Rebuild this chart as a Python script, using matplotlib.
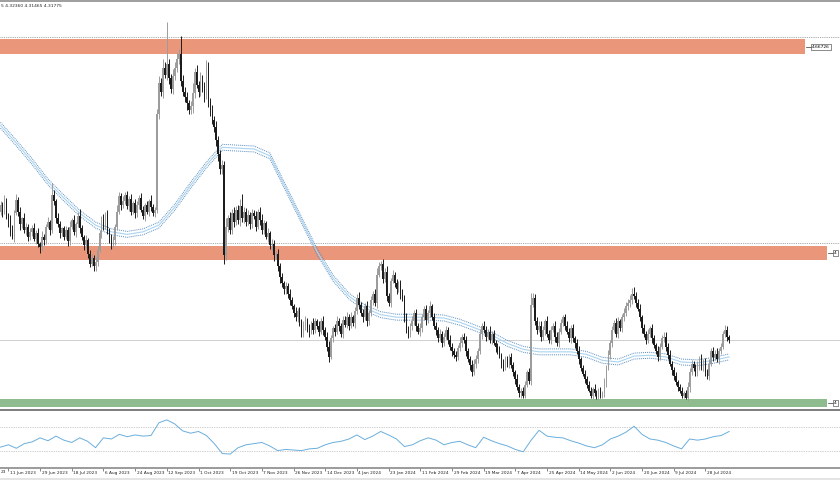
import numpy as np
import matplotlib
matplotlib.use("Agg")
import matplotlib.pyplot as plt
import matplotlib.transforms as mtransforms
from matplotlib.patches import Rectangle

# daily closes, one row per date-label interval (16 bars)
closes = [
    4.478, 4.470, 4.482, 4.466, 4.460, 4.445, 4.440, 4.468, 4.484, 4.470, 4.455, 4.462, 4.448, 4.452, 4.440, 4.446,  # 11 Jun
    4.450, 4.438, 4.445, 4.432, 4.428, 4.440, 4.436, 4.452, 4.458, 4.448, 4.490, 4.482, 4.462, 4.455, 4.445, 4.450,  # 29 Jun
    4.440, 4.448, 4.435, 4.452, 4.460, 4.446, 4.455, 4.465, 4.450, 4.440, 4.430, 4.436, 4.420, 4.408, 4.415, 4.405,  # 18 Jul
    4.410, 4.425, 4.445, 4.460, 4.452, 4.466, 4.448, 4.440, 4.430, 4.436, 4.452, 4.470, 4.488, 4.478, 4.482, 4.490,  # 6 Aug
    4.476, 4.485, 4.470, 4.480, 4.468, 4.478, 4.486, 4.472, 4.465, 4.478, 4.470, 4.482, 4.475, 4.468, 4.472, 4.585,  # 24 Aug
    4.622, 4.612, 4.640, 4.632, 4.645, 4.628, 4.615, 4.630, 4.640, 4.650, 4.656, 4.625, 4.612, 4.605, 4.598, 4.590,  # 12 Sep
    4.595, 4.610, 4.635, 4.620, 4.612, 4.625, 4.618, 4.608, 4.640, 4.600, 4.590, 4.578, 4.570, 4.555, 4.538, 4.520,  # 1 Oct
    4.525, 4.418, 4.452, 4.462, 4.448, 4.468, 4.458, 4.472, 4.460, 4.476, 4.462, 4.470, 4.458, 4.466, 4.455, 4.468,  # 19 Oct
    4.465, 4.452, 4.470, 4.460, 4.448, 4.456, 4.440, 4.445, 4.430, 4.432, 4.418, 4.420, 4.405, 4.392, 4.385, 4.378,  # 7 Nov
    4.382, 4.372, 4.365, 4.358, 4.350, 4.345, 4.352, 4.340, 4.325, 4.335, 4.342, 4.332, 4.328, 4.338, 4.330, 4.340,  # 26 Nov
    4.335, 4.328, 4.340, 4.330, 4.322, 4.310, 4.298, 4.320, 4.332, 4.328, 4.340, 4.335, 4.325, 4.342, 4.336, 4.345,  # 14 Dec
    4.335, 4.345, 4.338, 4.352, 4.368, 4.360, 4.350, 4.345, 4.358, 4.340, 4.350, 4.365, 4.372, 4.362, 4.395, 4.405,  # 4 Jan
    4.408, 4.390, 4.398, 4.370, 4.362, 4.388, 4.395, 4.385, 4.378, 4.385, 4.372, 4.368, 4.345, 4.330, 4.325, 4.335,  # 23 Jan
    4.340, 4.350, 4.335, 4.328, 4.332, 4.345, 4.355, 4.342, 4.350, 4.358, 4.345, 4.335, 4.330, 4.320, 4.325, 4.315,  # 11 Feb
    4.322, 4.330, 4.318, 4.310, 4.305, 4.300, 4.298, 4.308, 4.315, 4.322, 4.318, 4.305, 4.295, 4.288, 4.280, 4.290,  # 29 Feb
    4.295, 4.305, 4.325, 4.335, 4.330, 4.322, 4.328, 4.318, 4.325, 4.315, 4.310, 4.305, 4.300, 4.290, 4.285, 4.295,  # 19 Mar
    4.290, 4.298, 4.288, 4.280, 4.272, 4.262, 4.255, 4.258, 4.252, 4.265, 4.280, 4.270, 4.360, 4.368, 4.340, 4.330,  # 7 Apr
    4.335, 4.322, 4.330, 4.340, 4.325, 4.318, 4.330, 4.335, 4.322, 4.315, 4.328, 4.338, 4.345, 4.335, 4.328, 4.320,  # 25 Apr
    4.332, 4.320, 4.315, 4.305, 4.295, 4.285, 4.278, 4.272, 4.265, 4.258, 4.252, 4.260, 4.255, 4.250, 4.258, 4.252,  # 14 May
    4.255, 4.268, 4.285, 4.300, 4.315, 4.330, 4.338, 4.325, 4.340, 4.332, 4.345, 4.350, 4.358, 4.362, 4.365, 4.372,  # 2 Jun
    4.370, 4.362, 4.355, 4.345, 4.332, 4.325, 4.318, 4.325, 4.332, 4.320, 4.312, 4.305, 4.298, 4.310, 4.320, 4.322,  # 20 Jun
    4.310, 4.300, 4.290, 4.282, 4.275, 4.268, 4.262, 4.258, 4.252, 4.255, 4.250, 4.262, 4.280, 4.290, 4.285, 4.280,  # 9 Jul
    4.288, 4.295, 4.285, 4.292, 4.280, 4.275, 4.290, 4.305, 4.298, 4.302, 4.295, 4.305, 4.310, 4.325, 4.330, 4.322,  # 28 Jul
    4.3178,
]
first_open = 4.470

# wick lengths above / below the body, in thousandths
up_wick = [
    5, 3, 8, 4, 2, 6, 9, 4, 7, 3, 5, 2, 6, 4, 3, 5,
    4, 6, 3, 5, 2, 7, 4, 3, 6, 2, 14, 5, 3, 6, 4, 2,
    3, 5, 4, 7, 2, 6, 3, 5, 8, 4, 2, 6, 3, 4, 5, 3,
    6, 4, 3, 5, 7, 3, 6, 2, 4, 5, 3, 8, 5, 4, 6, 3,
    4, 3, 6, 2, 5, 4, 3, 6, 4, 2, 5, 3, 7, 4, 3, 6,
    8, 6, 10, 7, 49, 6, 5, 9, 7, 8, 6, 22, 7, 5, 6, 4,
    6, 12, 5, 8, 4, 10, 6, 5, 9, 7, 4, 6, 5, 7, 4, 5,
    6, 5, 10, 4, 8, 5, 7, 4, 6, 9, 15, 5, 4, 6, 3, 5,
    4, 6, 3, 5, 7, 4, 3, 6, 2, 5, 4, 3, 6, 4, 5, 3,
    5, 3, 6, 4, 3, 7, 4, 5, 3, 6, 4, 2, 5, 3, 6, 4,
    3, 5, 4, 6, 3, 5, 7, 4, 3, 5, 6, 4, 3, 5, 4, 6,
    4, 6, 3, 5, 4, 7, 3, 5, 4, 6, 3, 5, 4, 6, 8, 5,
    4, 6, 5, 8, 4, 3, 6, 4, 5, 3, 4, 6, 3, 5, 4, 3,
    6, 4, 5, 3, 6, 4, 3, 5, 4, 6, 3, 5, 4, 3, 6, 4,
    4, 5, 3, 6, 4, 3, 5, 4, 6, 3, 4, 5, 3, 4, 6, 5,
    5, 4, 6, 3, 5, 4, 3, 6, 4, 5, 3, 4, 6, 3, 5, 4,
    4, 3, 5, 4, 3, 6, 4, 3, 5, 4, 3, 5, 14, 6, 4, 5,
    5, 6, 4, 3, 6, 5, 4, 3, 5, 6, 4, 5, 3, 4, 5, 4,
    4, 5, 3, 4, 6, 3, 4, 5, 3, 4, 5, 3, 6, 4, 3, 5,
    3, 5, 4, 6, 3, 5, 4, 6, 5, 3, 4, 6, 5, 4, 6, 8,
    9, 5, 4, 6, 3, 5, 4, 6, 3, 5, 4, 3, 6, 5, 4, 5,
    5, 4, 6, 3, 4, 5, 3, 4, 5, 3, 4, 6, 5, 4, 3, 5,
    5, 4, 6, 3, 5, 4, 6, 3, 5, 4, 6, 3, 5, 4, 6, 5,
    2,
]
dn_wick = [
    4, 6, 3, 5, 8, 4, 3, 6, 2, 5, 7, 4, 3, 6, 5, 4,
    5, 3, 6, 4, 7, 3, 5, 4, 2, 6, 3, 4, 5, 3, 6, 4,
    4, 3, 6, 5, 3, 4, 6, 3, 5, 4, 6, 3, 5, 4, 3, 5,
    5, 4, 3, 6, 4, 3, 5, 7, 4, 3, 5, 4, 3, 6, 4, 3,
    3, 5, 4, 3, 6, 4, 5, 3, 4, 6, 3, 5, 4, 3, 5, 4,
    6, 5, 8, 4, 6, 7, 5, 6, 4, 5, 6, 7, 5, 6, 8, 5,
    5, 8, 6, 4, 7, 5, 6, 8, 5, 6, 7, 5, 6, 7, 8, 6,
    6, 10, 5, 6, 4, 5, 6, 4, 5, 7, 4, 6, 5, 4, 6, 5,
    4, 5, 3, 6, 4, 5, 3, 6, 4, 5, 6, 4, 5, 6, 4, 5,
    5, 4, 6, 3, 5, 4, 6, 5, 4, 3, 5, 4, 6, 3, 5, 4,
    4, 5, 3, 6, 4, 5, 6, 3, 4, 5, 3, 6, 4, 5, 3, 4,
    5, 3, 4, 6, 3, 5, 4, 6, 3, 5, 4, 3, 5, 4, 6, 3,
    4, 5, 3, 6, 4, 5, 3, 4, 6, 3, 5, 4, 6, 4, 5, 3,
    5, 4, 6, 3, 5, 4, 3, 6, 4, 5, 3, 4, 6, 4, 3, 5,
    4, 3, 5, 4, 6, 3, 5, 4, 3, 5, 4, 6, 3, 5, 4, 3,
    5, 4, 3, 6, 4, 5, 3, 4, 5, 3, 6, 4, 3, 5, 4, 3,
    4, 5, 3, 4, 6, 3, 4, 5, 3, 2, 3, 4, 5, 3, 4, 5,
    3, 5, 4, 6, 3, 4, 5, 3, 6, 4, 5, 3, 4, 5, 3, 4,
    5, 4, 6, 3, 5, 4, 3, 5, 4, 2, 3, 4, 3, 2, 3, 2,
    2, 4, 5, 3, 4, 5, 3, 4, 5, 3, 4, 5, 3, 4, 5, 4,
    4, 5, 3, 4, 6, 3, 5, 4, 3, 5, 4, 3, 5, 4, 3, 4,
    5, 4, 3, 5, 4, 3, 4, 3, 2, 3, 2, 4, 5, 3, 4, 5,
    4, 5, 3, 4, 5, 3, 4, 3, 5, 4, 3, 5, 4, 3, 4, 5,
    3,
]

# moving average read every 8 bars, envelope half-width
ma_every = 8
ma_mid = [4.572, 4.551, 4.529, 4.505, 4.486, 4.468, 4.454, 4.446, 4.443, 4.446,
          4.454, 4.475, 4.501, 4.525, 4.546, 4.545, 4.544, 4.536, 4.498, 4.460,
          4.422, 4.391, 4.370, 4.356, 4.348, 4.345, 4.345, 4.345, 4.344, 4.339,
          4.332, 4.324, 4.314, 4.307, 4.304, 4.304, 4.304, 4.301, 4.294, 4.292,
          4.299, 4.300, 4.298, 4.292, 4.291, 4.294, 4.298]
ma_dev = 0.0035

# oscillator read every 4 bars
rsi_every = 4
rsi = [36, 40, 34, 42, 45, 52, 47, 55, 48, 44, 52, 46, 35, 52, 50, 58, 54, 57, 55, 56,
       78, 83, 76, 64, 60, 63, 56, 42, 25, 24, 35, 40, 42, 44, 38, 30, 32, 31, 30, 33,
       34, 40, 44, 46, 50, 57, 49, 55, 63, 57, 50, 37, 40, 47, 52, 48, 40, 44, 46, 40,
       35, 53, 47, 42, 38, 32, 28, 48, 65, 55, 53, 52, 47, 43, 38, 35, 40, 50, 55, 62,
       72, 58, 50, 48, 44, 38, 33, 50, 48, 50, 54, 56, 63]
rsi_levels = [70, 30]

date_labels = ["11 Jun 2023", "29 Jun 2023", "18 Jul 2023", "6 Aug 2023",
               "24 Aug 2023", "12 Sep 2023", "1 Oct 2023", "19 Oct 2023", "7 Nov 2023",
               "26 Nov 2023", "14 Dec 2023", "4 Jan 2024", "23 Jan 2024", "11 Feb 2024",
               "29 Feb 2024", "19 Mar 2024", "7 Apr 2024", "25 Apr 2024", "14 May 2024",
               "2 Jun 2024", "20 Jun 2024", "9 Jul 2024", "28 Jul 2024"]
label_every = 16
label_first = 4
cut_date = "23"   # tail of the previous label, cut by the left edge

supply_top = (4.656, 4.674)
supply_mid = (4.413, 4.429)
demand_low = (4.2385, 4.2485)
level_top, level_mid = 4.676, 4.433
top_label = "4.66726"
cut_tag = "4"     # right-edge tags only show their first digit
header = "5 4.32360 4.31465 4.31775"

# ---------------------------------------------------------------
c = np.array(closes)
o = np.r_[first_open, c[:-1]]
hi = np.maximum(o, c) + np.array(up_wick) / 1000
lo = np.minimum(o, c) - np.array(dn_wick) / 1000
x = np.arange(len(c))
bull = c >= o

W, H = 840, 480
px_bar = 1.98
xlim = (-0.5 / px_bar, (W - 0.5) / px_bar)

fig = plt.figure(figsize=(8.4, 4.8), dpi=100)
fig.patch.set_facecolor("white")

ax = fig.add_axes([0, 1 - 409 / H, 1, 406 / H])
ax.set_xlim(*xlim)
ax.set_ylim(4.2364, 4.7167)
ax.axis("off")
yblend = mtransforms.blended_transform_factory(ax.transAxes, ax.transData)

ax.axhspan(*supply_top, xmin=0, xmax=805 / W, color="#e9967a", lw=0, zorder=1)
ax.axhspan(*supply_mid, xmin=0, xmax=827 / W, color="#e9967a", lw=0, zorder=1)
ax.axhspan(*demand_low, xmin=0, xmax=827 / W, color="#8fbc8f", lw=0, zorder=1)
for lv in (level_top, level_mid):
    ax.axhline(lv, color="#8a8a8a", lw=0.6, ls=(0, (1, 1.2)), zorder=2)
ax.axhline(c[-1] + 0.0008, color="#c8c8c8", lw=0.6, zorder=2)

# envelope
mx = np.arange(len(ma_mid)) * ma_every
mm = np.array(ma_mid)
ax.plot(mx, mm, color="#a9d4f0", lw=0.8, zorder=3)
ax.plot(mx, mm + ma_dev, color="#5a8cc0", lw=0.7, ls=(0, (1, 1)), zorder=3)
ax.plot(mx, mm - ma_dev, color="#5a8cc0", lw=0.7, ls=(0, (1, 1)), zorder=3)

# candles
cols = np.where(bull, "#9c9c9c", "#1c1c1c")
ax.vlines(x, lo, hi, colors=cols, lw=0.7, zorder=4)
ax.bar(x, np.maximum(np.abs(c - o), 0.0008), bottom=np.minimum(o, c), width=0.85,
       color=cols, lw=0, zorder=5)

# price tags on the right
tag_box = dict(boxstyle="square,pad=0.25", fc="white", ec="#333333", lw=0.4)
ax.axhline(np.mean(supply_top), xmin=806 / W, xmax=812 / W, color="#333333", lw=0.5, zorder=6)
ax.text(812 / W, np.mean(supply_top), top_label, transform=yblend, fontsize=3.2,
        va="center", ha="left", zorder=7, bbox=tag_box)
for zone in (supply_mid, demand_low):
    ax.axhline(np.mean(zone), xmin=828 / W, xmax=833 / W, color="#333333", lw=0.5, zorder=6)
    ax.text(834 / W, np.mean(zone), cut_tag, transform=yblend, fontsize=3.2,
            va="center", ha="left", zorder=7, bbox=tag_box)

fig.text(0.001, 1 - 6 / H, header, fontsize=3.2, va="center", ha="left", color="#222222")

# oscillator pane
ax2 = fig.add_axes([0, 12 / H, 1, 58 / H])
ax2.set_xlim(*xlim)
ax2.set_ylim(0, 100)
for s in ("top", "left", "right"):
    ax2.spines[s].set_visible(False)
ax2.spines["bottom"].set_color("#8a8a8a")
ax2.spines["bottom"].set_linewidth(1.2)
ax2.set_yticks([])
for lv in rsi_levels:
    ax2.axhline(lv, color="#a0a0a0", lw=0.5, ls=(0, (1, 1.5)))
ax2.plot(np.arange(len(rsi)) * rsi_every, rsi, color="#6aaedc", lw=0.7)

tick_bars = label_first + label_every * np.arange(len(date_labels))
ax2.set_xticks(tick_bars)
ax2.set_xticklabels([])
ax2.tick_params(axis="x", length=2, width=0.5, color="#555555")
trans = mtransforms.blended_transform_factory(ax2.transData, ax2.transAxes)
for b, lab in zip(tick_bars, date_labels):
    ax2.text(b + 0.8, -0.06, lab, transform=trans, fontsize=3.1, ha="left", va="top",
             color="#222222", clip_on=False)
fig.text(0.5 / W, 1 - 470 / H, cut_date, fontsize=3.1, ha="left", va="top", color="#222222")

# window borders
fig.patches.append(Rectangle((0, 1 - 2 / H), 1, 2 / H, transform=fig.transFigure,
                             color="#a0a0a0", lw=0))
fig.patches.append(Rectangle((0, 1 - 410.5 / H), 1, 2 / H, transform=fig.transFigure,
                             color="#808080", lw=0))
fig.patches.append(Rectangle((0, 0), 1, 2 / H, transform=fig.transFigure,
                             color="#e4e4e4", lw=0))

fig.savefig("out.png", dpi=100)
